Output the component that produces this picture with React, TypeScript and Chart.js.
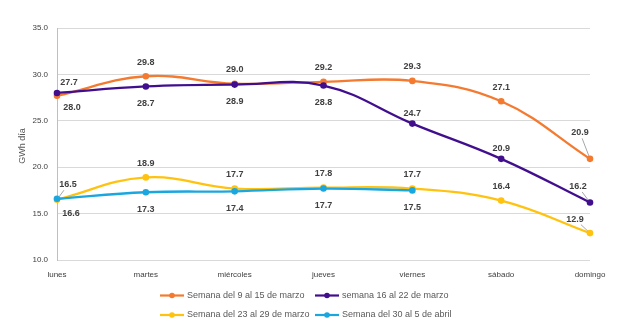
import { useEffect, useRef } from 'react';
import { Chart, registerables } from 'chart.js';

Chart.register(...registerables);

const days = ['lunes', 'martes', 'miércoles', 'jueves', 'viernes', 'sábado', 'domingo'];
const week9to15 = [27.7, 29.8, 29.0, 29.2, 29.3, 27.1, 20.9];
const week16to22 = [28.0, 28.7, 28.9, 28.8, 24.7, 20.9, 16.2];
const week23to29 = [16.5, 18.9, 17.7, 17.8, 17.7, 16.4, 12.9];
const week30to5 = [16.6, 17.3, 17.4, 17.7, 17.5, null, null];
const seriesNames = [
  'Semana del 9 al 15 de marzo',
  'semana 16 al 22 de marzo',
  'Semana del 23 al 29 de marzo',
  'Semana del 30 al 5 de abril',
];
const yTitle = 'GWh día';
const yMin = 10;
const yMax = 35;
const yStep = 5;

const colors = ['#F47A30', '#410F8E', '#FFC20F', '#1AA7E0'];

// label offsets (dx, dy) relative to the point, plus leader-line flag
type Off = [number, number, boolean?];
const labelOffsets: Off[][] = [
  [[12, -13], [0, -14], [0, -14], [0, -14], [0, -14], [0, -14], [-10, -26, true]],
  [[15, 15], [0, 17], [0, 17], [0, 17], [0, -10], [0, -10], [-12, -16, true]],
  [[11, -15, true], [0, -14], [0, -14], [0, -14], [0, -14], [0, -14], [-15, -14, true]],
  [[14, 15], [0, 17], [0, 17], [0, 17], [0, 17], [0, 0], [0, 0]],
];

const FONT = '"Liberation Sans", Arial, sans-serif';

const labelPlugin = {
  id: 'customLabels',
  afterDatasetsDraw(chart: any) {
    const ctx = chart.ctx;
    ctx.save();
    chart.data.datasets.forEach((ds: any, di: number) => {
      const meta = chart.getDatasetMeta(di);
      ds.data.forEach((v: number | null, i: number) => {
        if (v === null || v === undefined) return;
        const pt = meta.data[i];
        const [dx, dy, leader] = labelOffsets[di][i];
        const lx = pt.x + dx;
        const ly = pt.y + dy;
        const text = v.toFixed(1);
        ctx.font = `bold 9px ${FONT}`;
        const w = ctx.measureText(text).width;
        if (leader) {
          const vx = pt.x - lx;
          const vy = pt.y - ly;
          const len = Math.hypot(vx, vy);
          const ux = vx / len;
          const uy = vy / len;
          const hw = w / 2 + 1;
          const hh = 5.5;
          const t = Math.min(Math.abs(ux) > 1e-6 ? hw / Math.abs(ux) : 1e9, Math.abs(uy) > 1e-6 ? hh / Math.abs(uy) : 1e9);
          ctx.strokeStyle = '#A6A6A6';
          ctx.lineWidth = 1;
          ctx.beginPath();
          ctx.moveTo(lx + ux * t, ly + uy * t);
          ctx.lineTo(pt.x - ux * 3, pt.y - uy * 3);
          ctx.stroke();
        }
        ctx.fillStyle = '#404040';
        ctx.textAlign = 'center';
        ctx.textBaseline = 'middle';
        ctx.fillText(text, lx, ly);
      });
    });
    ctx.restore();
  },
  afterDraw(chart: any) {
    const ctx = chart.ctx;
    ctx.save();
    // y title
    ctx.translate(23, 146);
    ctx.rotate(-Math.PI / 2);
    ctx.font = `9px ${FONT}`;
    ctx.fillStyle = '#595959';
    ctx.textAlign = 'center';
    ctx.textBaseline = 'middle';
    ctx.fillText(yTitle, 0, 0);
    ctx.restore();

    // legend
    const pos = [
      [160, 295.5],
      [315, 295.5],
      [160, 315],
      [315, 315],
    ];
    ctx.save();
    seriesNames.forEach((name, i) => {
      const [x, y] = pos[i];
      ctx.strokeStyle = colors[i];
      ctx.lineWidth = 2.2;
      ctx.beginPath();
      ctx.moveTo(x, y);
      ctx.lineTo(x + 24, y);
      ctx.stroke();
      ctx.fillStyle = colors[i];
      ctx.beginPath();
      ctx.arc(x + 12, y, 2.8, 0, Math.PI * 2);
      ctx.fill();
      ctx.font = `9px ${FONT}`;
      ctx.fillStyle = '#595959';
      ctx.textAlign = 'left';
      ctx.textBaseline = 'middle';
      ctx.fillText(name, x + 27, y);
    });
    ctx.restore();
  },
};

export default function App() {
  const ref = useRef<HTMLCanvasElement>(null);
  useEffect(() => {
    if (!ref.current) return;
    const series = [week9to15, week16to22, week23to29, week30to5];
    const chart = new Chart(ref.current, {
      type: 'line',
      data: {
        labels: days,
        datasets: series.map((d, i) => ({
          label: seriesNames[i],
          data: d,
          borderColor: colors[i],
          backgroundColor: colors[i],
          pointBackgroundColor: colors[i],
          pointBorderColor: colors[i],
          pointBorderWidth: 0,
          borderWidth: 2.3,
          pointRadius: 3.3,
          tension: 0.4,
          spanGaps: false,
          order: 4 - i,
        })),
      },
      options: {
        animation: false,
        responsive: false,
        layout: { padding: { top: 28, right: 27, left: 0, bottom: 0 } },
        plugins: { legend: { display: false }, tooltip: { enabled: false } },
        scales: {
          x: {
            offset: false,
            grid: { display: false },
            border: { display: false },
            ticks: { padding: 2, color: '#404040', font: { family: FONT, size: 8 }, maxRotation: 0, autoSkip: false },
            afterFit: (s: any) => {
              s.height = 71;
              s.paddingLeft = 0;
              s.paddingRight = 0;
            },
          },
          y: {
            min: yMin,
            max: yMax,
            ticks: {
              stepSize: yStep,
              padding: 9,
              color: '#404040',
              font: { family: FONT, size: 8 },
              callback: (v: any) => Number(v).toFixed(1),
            },
            grid: { color: '#D9D9D9', drawTicks: false, lineWidth: 1 },
            border: { display: true, color: '#BFBFBF' },
            afterFit: (s: any) => {
              s.width = 57;
              s.paddingTop = 0;
              s.paddingBottom = 0;
            },
          },
        },
      },
      plugins: [labelPlugin],
    });
    return () => chart.destroy();
  }, []);
  return (
    <div style={{ position: 'fixed', left: 0, top: 0, width: 617, height: 331, background: '#fff' }}>
      <canvas ref={ref} width={617} height={331} />
    </div>
  );
}
